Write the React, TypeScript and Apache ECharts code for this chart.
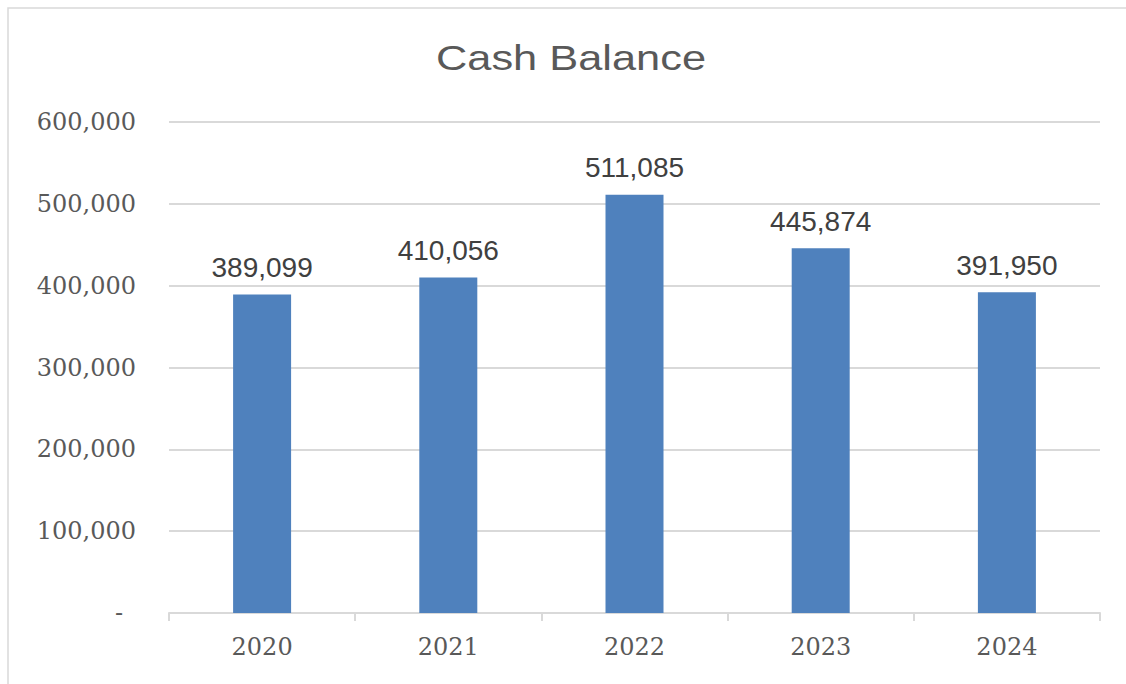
import React, { useEffect, useRef } from "react";
import * as echarts from "echarts";

const categories = ["2020", "2021", "2022", "2023", "2024"];
const cashValues = [389099, 410056, 511085, 445874, 391950];
const yTicks = { min: 0, max: 600000, interval: 100000 };
const titleText = "Cash Balance";

export default function App() {
  const ref = useRef<HTMLDivElement>(null);
  useEffect(() => {
    const chart = echarts.init(ref.current!, null, { renderer: "svg" });
    chart.setOption({
      animation: false,
      backgroundColor: "#ffffff",
      graphic: [
        {
          type: "rect",
          shape: { x: 8, y: 8, width: 1300, height: 900 },
          style: { fill: "none", stroke: "#d9d9d9", lineWidth: 1.5 },
          silent: true,
        },
        {
          type: "text",
          x: 571,
          y: 58,
          scaleX: 1.24,
          style: {
            text: titleText,
            fill: "#595959",
            fontFamily: "'Liberation Sans', Arial, sans-serif",
            fontSize: 35,
            align: "center",
            verticalAlign: "middle",
          },
        },
      ],
      grid: { left: 169, right: 26, top: 122, bottom: 71, containLabel: false },
      xAxis: {
        type: "category",
        data: categories,
        axisLine: { show: true, lineStyle: { color: "#d9d9d9", width: 2 } },
        axisTick: { show: true, alignWithLabel: false, length: 8, lineStyle: { color: "#d9d9d9", width: 2 } },
        axisLabel: {
          color: "#595959",
          fontFamily: "'DejaVu Serif', serif",
          fontSize: 24,
          margin: 22,
        },
        splitLine: { show: false },
      },
      yAxis: {
        type: "value",
        min: yTicks.min,
        max: yTicks.max,
        interval: yTicks.interval,
        axisLine: { show: false },
        axisTick: { show: false },
        splitLine: { show: true, lineStyle: { color: "#d9d9d9", width: 2 } },
        axisLabel: {
          color: "#595959",
          fontFamily: "'DejaVu Serif', serif",
          fontSize: 24,
          margin: 33,
          formatter: (v: number) => (v === 0 ? "{d|-}" : v.toLocaleString("en-US")),
          rich: {
            d: {
              color: "#595959",
              fontFamily: "'DejaVu Serif', serif",
              fontSize: 24,
              padding: [0, 13, 0, 0],
            },
          },
        },
      },
      series: [
        {
          type: "bar",
          data: cashValues,
          barWidth: 58,
          itemStyle: { color: "#4f81bd" },
          label: {
            show: true,
            position: "top",
            distance: 13,
            color: "#404040",
            fontFamily: "'Liberation Sans', Arial, sans-serif",
            fontSize: 28,
            formatter: (p: any) => Number(p.value).toLocaleString("en-US"),
          },
        },
      ],
    });
    return () => chart.dispose();
  }, []);
  return (
    <div
      ref={ref}
      style={{ position: "fixed", left: 0, top: 0, width: 1126, height: 684 }}
    />
  );
}
